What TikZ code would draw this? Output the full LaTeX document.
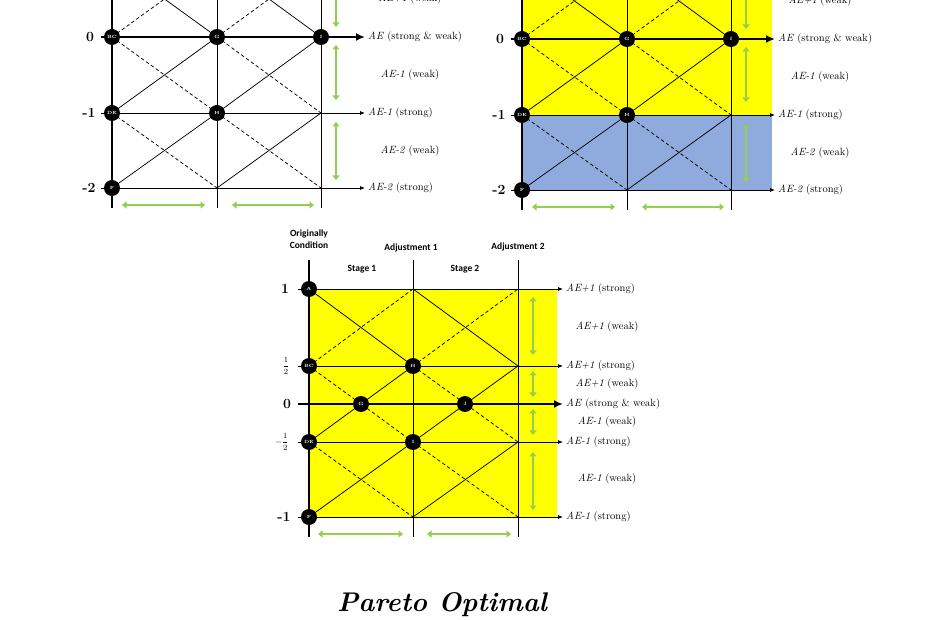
\documentclass[tikz,border=0pt]{standalone}
\usepackage{fontspec}
\usepackage{xcolor}
\usepackage{tikz}
\usetikzlibrary{arrows.meta}
\newfontfamily\stagefont{Carlito}

\definecolor{shiftgreen}{RGB}{146,208,80}
\definecolor{zoneyellow}{RGB}{255,255,0}
\definecolor{zoneblue}{RGB}{143,170,220}

\begin{document}
\begin{tikzpicture}[
  x=1pt,y=-1pt,
  axis/.style={line width=2.4pt},
  gridline/.style={line width=0.75pt},
  rowarrow/.style={line width=0.75pt,-{Latex[length=5pt,width=4pt]}},
  zeroarrow/.style={line width=2.2pt,-{Latex[length=9pt,width=8pt]}},
  diag/.style={line width=0.75pt},
  diagdash/.style={line width=0.75pt,dash pattern=on 3.5pt off 2.5pt},
  point/.style={circle,fill=black,inner sep=0pt,minimum size=16pt,text=white,font=\fontsize{4.5}{5}\selectfont\bfseries},
  move/.style={line width=2.8pt,shiftgreen,{Triangle[width=7pt,length=4.5pt]}-{Triangle[width=7pt,length=4.5pt]}},
  strong/.style={anchor=west,inner sep=1pt,font=\fontsize{10.5}{12}\selectfont},
  weak/.style={inner sep=1pt,font=\fontsize{10.5}{12}\selectfont},
  level/.style={font=\fontsize{14}{14}\selectfont\bfseries},
  half/.style={inner sep=0pt,font=\fontsize{8}{8}\selectfont},
  stage/.style={align=center,font=\stagefont\fontsize{9.5}{12}\selectfont\bfseries}
]
\useasboundingbox (0,0) rectangle (930,620);
\fill[white] (0,0) rectangle (930,620);

% two upper panels, same grid
\foreach \p/\ox/\oy/\up/\dn in {l/112/37/white/white, r/522/39/zoneyellow/zoneblue}{
  \begin{scope}[shift={(\ox,\oy)}]
    \fill[\up] (0,-110) rectangle (250,76);
    \fill[\dn] (0,76) rectangle (250,151);
    \foreach \c/\cx in {0/0,1/105,2/209}
      \foreach \r/\ry in {0/-76,1/0,2/76,3/151}
        \coordinate (\p\c\r) at (\cx,\ry);
    \draw[gridline] (105,-110) -- (105,171);
    \draw[gridline] (209,-110) -- (209,171);
    \draw[rowarrow] (-11,-76) -- (253,-76);
    \draw[rowarrow] (-11,76) -- (253,76);
    \draw[rowarrow] (-11,151) -- (253,151);
    % diagonals
    \draw[diag] (\p00) -- (\p11);
    \draw[diag] (\p10) -- (\p21);
    \draw[diagdash] (\p01) -- (\p10);
    \draw[diagdash] (\p11) -- (\p20);
    \draw[diag] (\p02) -- (\p11);
    \draw[diag] (\p12) -- (\p21);
    \draw[diagdash] (\p01) -- (\p12);
    \draw[diagdash] (\p11) -- (\p22);
    \draw[diag] (\p03) -- (\p12);
    \draw[diag] (\p13) -- (\p22);
    \draw[diagdash] (\p02) -- (\p13);
    \draw[diagdash] (\p12) -- (\p23);
    \draw[zeroarrow] (-11,0) -- (253,0);
    \draw[axis] (0,-110) -- (0,171);
    \node[point] (\p-BC) at (\p01) {BC};
    \node[point] (\p-G) at (\p11) {G};
    \node[point] (\p-I) at (\p21) {I};
    \node[point] (\p-DE) at (\p02) {DE};
    \node[point] (\p-H) at (\p12) {H};
    \node[point] (\p-F) at (\p03) {F};
    \node[level] (\p-y0) at (-22,0) {0};
    \node[level] (\p-y1) at (-23,76) {-1};
    \node[level] (\p-y2) at (-23,151) {-2};
    \node[weak] (\p-w0) at (298,-38) {\textit{AE+1} (weak)};
    \node[strong] (\p-s1) at (255,0) {\textit{AE} (strong \& weak)};
    \node[weak] (\p-w1) at (298,38) {\textit{AE-1} (weak)};
    \node[strong] (\p-s2) at (255,76) {\textit{AE-1} (strong)};
    \node[weak] (\p-w2) at (298,114) {\textit{AE-2} (weak)};
    \node[strong] (\p-s3) at (255,151) {\textit{AE-2} (strong)};
    \draw[move] (224,-66) -- (224,-10);
    \draw[move] (224,8) -- (224,63);
    \draw[move] (224,85) -- (224,143);
    \draw[move] (10,168) -- (93,168);
    \draw[move] (120,168) -- (202,168);
  \end{scope}
}

% lower panel
\begin{scope}[shift={(309,289)}]
  \fill[zoneyellow] (0,0) rectangle (248,228);
  \foreach \c/\cx in {0/0,1/104,2/209}
    \foreach \r/\ry in {0/0,1/77,2/153,3/228}
      \coordinate (b\c\r) at (\cx,\ry);
  \draw[gridline] (104,-29) -- (104,248);
  \draw[gridline] (209,-29) -- (209,248);
  \draw[rowarrow] (-11,0) -- (254,0);
  \draw[rowarrow] (-11,77) -- (254,77);
  \draw[rowarrow] (-11,153) -- (254,153);
  \draw[rowarrow] (-11,228) -- (254,228);
  % diagonals
  \draw[diag] (b00) -- (b11);
  \draw[diag] (b10) -- (b21);
  \draw[diagdash] (b01) -- (b10);
  \draw[diagdash] (b11) -- (b20);
  \draw[diag] (b02) -- (b11);
  \draw[diag] (b12) -- (b21);
  \draw[diagdash] (b01) -- (b12);
  \draw[diagdash] (b11) -- (b22);
  \draw[diag] (b03) -- (b12);
  \draw[diag] (b13) -- (b22);
  \draw[diagdash] (b02) -- (b13);
  \draw[diagdash] (b12) -- (b23);
  \draw[zeroarrow] (-11,115) -- (254,115);
  \draw[axis] (0,-29) -- (0,248);
  \node[point] (b-A) at (b00) {A};
  \node[point] (b-BC) at (b01) {BC};
  \node[point] (b-H) at (b11) {H};
  \node[point] (b-G) at (52,115) {G};
  \node[point] (b-J) at (156,115) {J};
  \node[point] (b-DE) at (b02) {DE};
  \node[point] (b-I) at (b12) {I};
  \node[point] (b-F) at (b03) {F};
  \node[stage] (orig) at (0,-50) {Originally\\Condition};
  \node[stage] (adj1) at (102,-41) {Adjustment 1};
  \node[stage] (adj2) at (209,-42) {Adjustment 2};
  \node[stage] (stg1) at (53,-20) {Stage 1};
  \node[stage] (stg2) at (156,-20) {Stage 2};
  \node[level] (b-y0) at (-24,0) {1};
  \node[half] (b-y1) at (-23,77) {$\displaystyle\frac{1}{2}$};
  \node[level] (b-y2) at (-22,115) {0};
  \node[half] (b-y3) at (-27,153) {$\displaystyle-\frac{1}{2}$};
  \node[level] (b-y4) at (-25,228) {-1};
  \node[strong] (b-s0) at (256,0) {\textit{AE+1} (strong)};
  \node[weak] (b-w0) at (298,38) {\textit{AE+1} (weak)};
  \node[strong] (b-s1) at (256,77) {\textit{AE+1} (strong)};
  \node[weak] (b-w1) at (298,95) {\textit{AE+1} (weak)};
  \node[strong] (b-s2) at (256,115) {\textit{AE} (strong \& weak)};
  \node[weak] (b-w2) at (298,133) {\textit{AE-1} (weak)};
  \node[strong] (b-s3) at (256,153) {\textit{AE-1} (strong)};
  \node[weak] (b-w3) at (298,190) {\textit{AE-1} (weak)};
  \node[strong] (b-s4) at (256,228) {\textit{AE-1} (strong)};
  \draw[move] (224,8) -- (224,66);
  \draw[move] (224,82) -- (224,108);
  \draw[move] (224,120) -- (224,146);
  \draw[move] (224,163) -- (224,221);
  \draw[move] (9,245) -- (94,245);
  \draw[move] (118,245) -- (202,245);
\end{scope}

\node[font=\fontsize{27}{30}\selectfont\bfseries\itshape] (title) at (442,605) {Pareto Optimal};
\end{tikzpicture}
\end{document}
